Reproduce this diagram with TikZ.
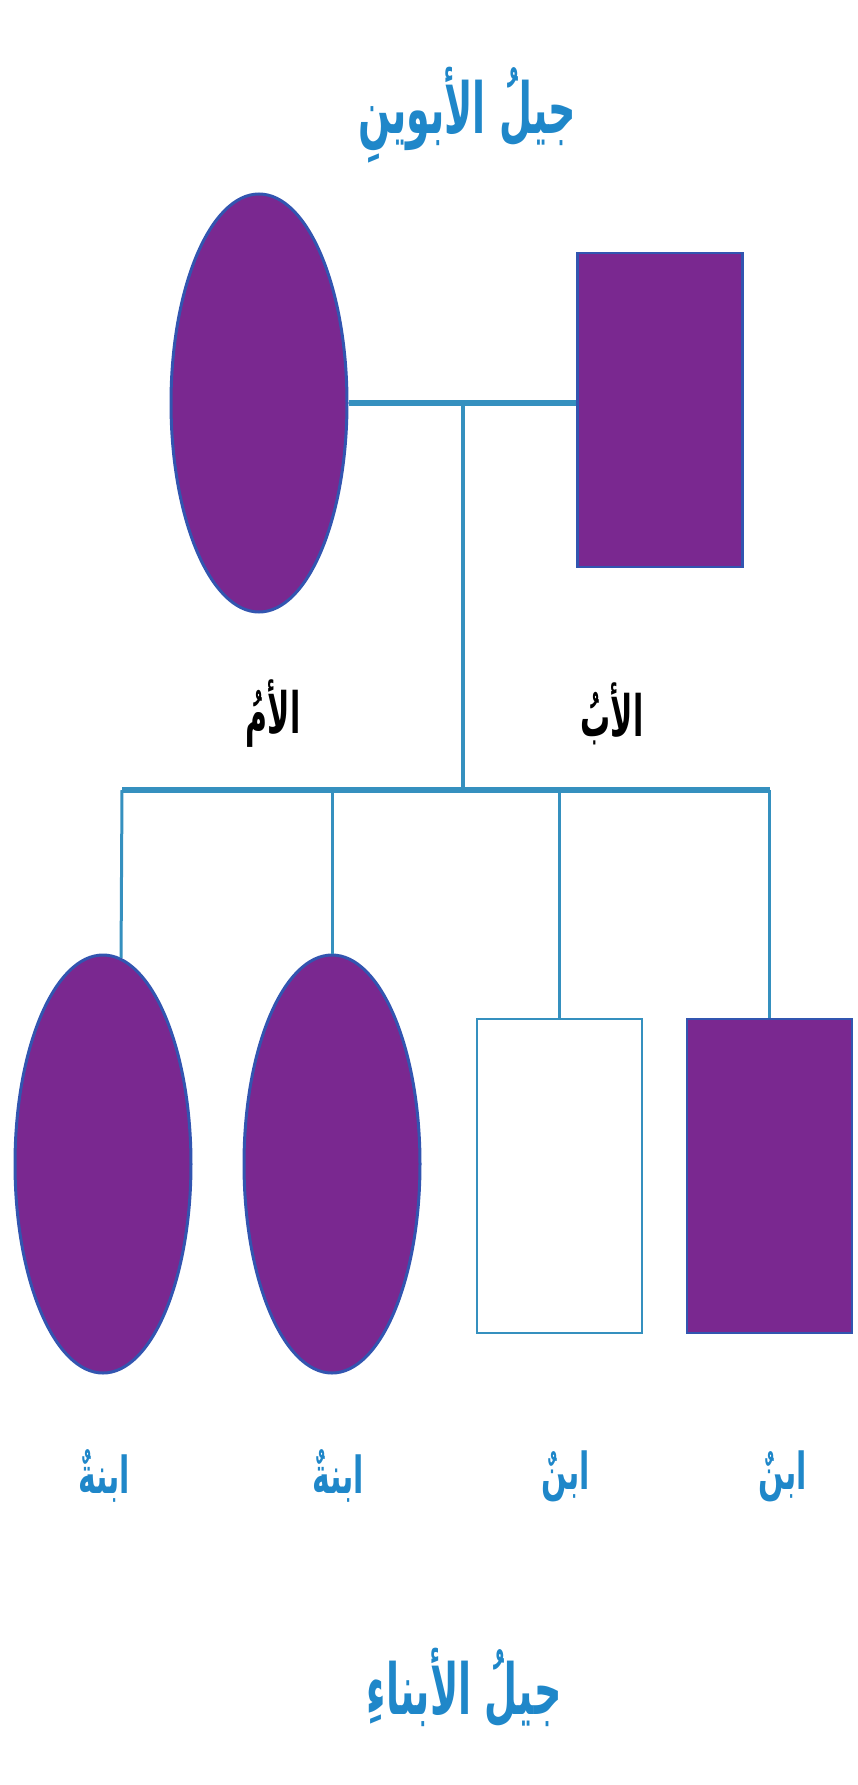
\documentclass[tikz,border=0pt]{standalone}
\usepackage{graphicx}
\usepackage{fontspec}
\usetikzlibrary{shapes.geometric,positioning}
\TeXXeTstate=1
\newfontfamily\arabicfont[Script=Arabic]{DejaVu Sans}
\definecolor{pu}{HTML}{7A2890}
\definecolor{rim}{HTML}{3255B0}
\definecolor{ln}{HTML}{3590BF}
\definecolor{tt}{HTML}{1F87C9}
\newcommand{\Ar}[2][1.7]{\scalebox{1}[#1]{\arabicfont\bfseries\beginR #2\endR}}

\begin{document}
\begin{tikzpicture}[x=1pt,y=-1pt,
  fem/.style={ellipse, draw=rim, line width=3pt, fill=pu, minimum width=176pt, minimum height=418pt, inner sep=0pt},
  mal/.style={rectangle, draw=rim, line width=2.5pt, fill=pu, minimum width=165pt, minimum height=314pt, inner sep=0pt},
  nomal/.style={mal, draw=ln, fill=white},
  bar/.style={draw=ln, line width=5.5pt},
  drop/.style={draw=ln, line width=3pt},
  gen/.style={text=tt, font=\fontsize{38}{44}\selectfont},
  who/.style={text=tt, font=\fontsize{30}{36}\selectfont}]
  \useasboundingbox (0,0) rectangle (857,1785);

  % parents
  \node[gen] (top) at (467,115) {\Ar[1.85]{جيلُ الأبوينِ}};
  \node[fem] (mom) at (259,403) {};
  \node[mal] (dad) at (660,410) {};
  \node[who, text=black] (momlbl) at (273,714) {\Ar[1.9]{الأمُ}};
  \node[who, text=black] (dadlbl) at (612,714) {\Ar[1.9]{الأبُ}};

  % children
  \node[fem] (d1) at (103,1164) {};
  \node[fem] (d2) at (332,1164) {};
  \node[nomal] (s1) at (559.5,1176) {};
  \node[mal] (s2) at (769.5,1176) {};
  \node[who] (d1lbl) at (104,1476) {\Ar{ابنةٌ}};
  \node[who] (d2lbl) at (338,1476) {\Ar{ابنةٌ}};
  \node[who] (s1lbl) at (566,1476) {\Ar{ابنٌ}};
  \node[who] (s2lbl) at (783,1476) {\Ar{ابنٌ}};
  \node[gen] (bot) at (464,1688) {\Ar[1.85]{جيلُ الأبناءِ}};

  \coordinate (mid) at (463,403);
  \coordinate (fork) at (463,790);
  \coordinate (barL) at (122,790);
  \coordinate (barR) at (769.5,790);

  \draw[bar] (mom.east |- mid) -- (mid) -- (mid -| dad.west);
  \draw[drop, line width=4pt] (mid) -- (fork);
  \draw[bar] (barL) -- (barR);
  \draw[drop] (barL) -- (d1.85);
  \draw[drop] (d2.north |- fork) -- (d2.north);
  \draw[drop] (s1.north |- fork) -- (s1.north);
  \draw[drop] (barR) -- (s2.north);
\end{tikzpicture}
\end{document}
